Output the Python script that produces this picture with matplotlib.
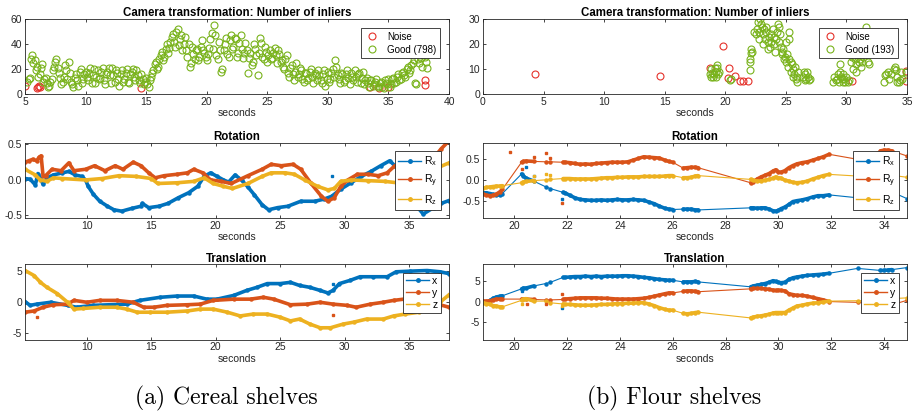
import matplotlib
matplotlib.use("Agg")
import matplotlib.pyplot as plt  # noqa: E402
import numpy as np  # noqa: E402
from matplotlib.lines import Line2D  # noqa: E402

plt.rcParams["font.family"] = ["Liberation Sans", "DejaVu Sans"]
plt.rcParams["axes.unicode_minus"] = False
plt.rcParams["mathtext.fontset"] = "custom"
plt.rcParams["mathtext.rm"] = "Liberation Sans"
plt.rcParams["mathtext.it"] = "Liberation Sans"

BLUE, ORANGE, YELLOW = "#0072BD", "#D95319", "#EDB120"
GREEN, RED = "#79B31C", "#E5322B"
INK = "#262626"

# ---------------- (a) Cereal shelves ----------------
# inliers, good matches: one value every 0.2 s from 5.2 s to 38.2 s ...
cer_good = [
    10, 13, 31, 27, 22, 16, 24, 12, 9, 7, 12, 22, 28, 17, 8,
    14, 19, 26, 10, 6, 16, 7, 20, 12, 18, 11, 21, 15, 9, 19,
    13, 21, 8, 18, 15, 21, 10, 17, 7, 19, 12, 20, 9, 18, 14,
    19, 11, 16, 8, 13, 6, 14, 19, 26, 22, 31, 27, 36, 33, 42,
    48, 38, 52, 44, 35, 46, 30, 22, 38, 28, 36, 30, 43, 33, 27,
    37, 49, 55, 31, 42, 18, 35, 45, 30, 47, 38, 44, 33, 47, 29,
    41, 17, 33, 26, 36, 15, 45, 30, 38, 26, 35, 29, 37, 25, 32,
    27, 20, 31, 14, 23, 11, 25, 16, 19, 10, 17, 13, 20, 9, 15,
    19, 11, 16, 7, 18, 12, 20, 27, 15, 9, 16, 11, 19, 8, 14,
    19, 10, 17, 13, 8, 13, 6, 11, 8, 12, 7, 10, 5, 9, 12,
    8, 13, 10, 16, 12, 18, 14, 22, 19, 25, 9, 28, 33, 22, 30, 21,
]
# ... and the frames in between, every 0.2 s from 5.3 s to 38.1 s
cer_good_mid = [
    12, 28, 25, 19, 14, 21, 10, 13, 6, 10, 19, 26, 21, 13, 10,
    23, 12, 17, 8, 13, 11, 18, 9, 16, 14, 17, 9, 20, 14, 12,
    18, 11, 16, 21, 9, 15, 19, 12, 16, 10, 17, 10, 16, 20, 11,
    15, 9, 12, 10, 8, 11, 17, 24, 20, 28, 34, 30, 40, 37, 46,
    42, 50, 39, 47, 40, 35, 40, 25, 32, 35, 27, 38, 35, 30, 32,
    44, 36, 47, 28, 35, 20, 40, 32, 43, 36, 45, 30, 41, 36, 33,
    35, 29, 23, 40, 31, 33, 41, 28, 34, 31, 28, 33, 31, 35, 26,
    22, 28, 17, 21, 16, 18, 14, 21, 12, 17, 11, 18, 14, 17, 11,
    15, 9, 19, 12, 10, 17, 14, 22, 12, 17, 10, 16, 13, 17, 11,
    14, 16, 9, 18, 11, 9, 11, 7, 10, 6, 9, 6, 11, 8, 6,
    12, 9, 14, 11, 17, 15, 20, 17, 23, 27, 8, 25, 29, 32, 26,
]
cer_noise_t = [5.0, 6.0, 6.1, 6.15, 6.2, 14.6, 33.5, 34.2, 35.0, 38.0, 38.0]
cer_noise_v = [7, 5, 6, 7, 5.5, 5, 6, 5, 5.5, 11.4, 7.4]

cer_rx_t = [5.2, 5.6, 6.0, 6.2, 6.4, 6.6, 6.9, 7.4, 8.1, 8.6, 9.1, 9.6, 9.9, 10.1,
            10.5, 11.0, 11.6, 12.1, 12.7, 13.5, 14.2, 14.3, 14.8, 15.6, 16.3,
            17.1, 17.9, 18.6, 19.1, 19.6, 20.1, 20.6, 21.0, 21.5, 22.0, 22.5,
            23.0, 23.6, 24.1, 24.8, 25.6, 26.6, 27.7, 28.4, 29.0, 29.7, 30.5,
            31.3, 32.05, 32.8, 33.5, 33.9, 34.5, 35.0, 35.5, 36.1, 36.9, 37.5, 38.1]
cer_rx_v = [0.02, 0.01, -0.07, 0.09, 0.02, -0.06, 0.03, 0.07, 0.10, 0.12, 0.07,
            0.05, 0.0, -0.09, -0.20, -0.30, -0.37, -0.42, -0.44, -0.40, -0.37,
            -0.33, -0.39, -0.37, -0.33, -0.25, -0.18, -0.09, 0.05, 0.10, 0.05,
            0.0, -0.03, 0.07, 0.0, -0.10, -0.21, -0.35, -0.42, -0.39, -0.37,
            -0.30, -0.30, -0.27, -0.23, -0.13, -0.04, 0.05, 0.12, 0.20, 0.27,
            0.20, 0.15, -0.05, -0.35, -0.48, -0.39, -0.33, -0.29]
cer_ry_t = [5.2, 5.5, 5.8, 6.1, 6.3, 6.45, 6.6, 6.8, 7.3, 8.0, 8.6, 9.0, 9.9, 10.6,
            11.4, 12.2, 12.8, 13.6, 14.2, 14.8, 15.3, 16.0, 17.0, 17.8, 18.3,
            19.0, 19.6, 20.4, 21.2, 22.5, 23.6, 24.3, 25.1, 26.0, 26.6, 27.4,
            28.2, 28.7, 29.2, 29.7, 30.25, 31.0, 31.8, 32.6, 33.3, 33.9, 34.5,
            35.0, 35.8, 36.5, 37.0, 37.5, 38.1]
cer_ry_v = [0.25, 0.27, 0.29, 0.27, 0.32, 0.34, 0.06, 0.06, 0.15, 0.13, 0.24, 0.13,
            0.15, 0.20, 0.13, 0.20, 0.15, 0.25, 0.20, 0.10, 0.03, 0.06, 0.08, 0.10,
            0.15, 0.10, 0.0, -0.02, -0.05, 0.06, 0.15, 0.22, 0.20, 0.22, 0.15,
            -0.05, -0.23, -0.30, -0.25, -0.09, 0.0, 0.08, 0.08, 0.06, 0.10, 0.20,
            0.22, 0.15, 0.15, 0.22, 0.33, 0.44, 0.55]
cer_rz_t = [5.2, 6.0, 6.4, 6.9, 7.4, 8.1, 9.9, 11.2, 12.5, 13.8, 15.0, 15.5, 17.0,
            18.3, 19.1, 19.8, 20.6, 21.3, 22.5, 23.6, 24.3, 25.4, 26.1, 26.9, 27.9,
            28.7, 29.2, 29.7, 30.5, 31.8, 33.1, 34.1, 35.0, 36.0, 36.7, 37.2, 38.1]
cer_rz_v = [0.15, 0.07, 0.0, -0.02, 0.03, 0.02, 0.0, 0.02, 0.06, 0.05, 0.02, -0.05,
            -0.04, -0.02, 0.03, -0.05, -0.09, -0.12, -0.05, 0.05, 0.10, 0.10, 0.08,
            0.0, -0.09, -0.14, -0.12, -0.02, 0.0, -0.01, -0.02, -0.04, -0.02, 0.03,
            0.10, 0.17, 0.24]

cer_tx_t = [5.2, 5.6, 6.1, 7.2, 8.5, 9.2, 10.5, 11.8, 13.1, 14.1, 15.7, 17.0, 18.3,
            19.3, 20.1, 21.4, 22.4, 23.2, 24.0, 25.0, 25.8, 26.5, 27.3, 28.1, 28.7,
            29.1, 29.6, 30.4, 31.2, 32.2, 33.3, 34.0, 35.1, 36.4, 37.4, 38.1]
cer_tx_v = [0.1, -0.5, -0.3, 0.0, -0.5, -0.8, -0.5, -0.4, -0.3, 0.3, 0.8, 1.0, 1.0,
            0.5, 0.5, 1.1, 1.9, 2.4, 3.0, 3.0, 3.2, 2.7, 2.4, 1.9, 1.5, 1.9, 3.0,
            3.5, 4.1, 4.1, 4.1, 4.9, 5.0, 5.1, 4.9, 4.6]
cer_ty_t = [5.2, 5.9, 6.6, 7.4, 8.5, 9.0, 10.0, 11.0, 12.3, 13.6, 14.4, 15.2, 16.2,
            17.8, 18.8, 19.8, 21.4, 22.7, 23.7, 24.5, 25.8, 27.1, 28.1, 29.1, 30.2,
            30.9, 32.0, 33.0, 33.8, 34.6, 35.5, 36.5, 37.4, 38.1]
cer_ty_v = [-1.6, -1.4, -0.8, -0.4, -0.3, 0.3, 0.0, 0.3, 0.3, 0.0, -0.8, -0.8, -0.5,
            -0.4, -0.3, 0.3, 0.5, 0.5, 0.8, 0.5, -0.4, -0.3, 0.0, -0.3, -0.5, -0.8,
            -0.3, 0.0, 0.3, 0.5, 0.6, 0.3, -0.4, -0.8]
cer_tz_t = [5.2, 5.9, 6.4, 6.9, 7.7, 8.5, 9.0, 9.7, 11.0, 12.3, 13.1, 13.9, 14.9,
            16.2, 17.8, 18.8, 19.8, 20.9, 21.9, 22.9, 24.0, 25.0, 25.8, 26.5, 27.3,
            28.1, 28.9, 29.9, 30.7, 31.7, 33.0, 33.8, 34.7, 35.8, 36.9, 37.4, 38.1]
cer_tz_v = [5.1, 4.3, 3.2, 2.4, 1.4, 0.0, -1.1, -1.0, -0.8, -0.8, -1.1, -1.6, -1.6,
            -1.6, -1.4, -1.1, -1.1, -1.6, -2.2, -1.9, -1.9, -2.4, -3.0, -2.7, -3.5,
            -4.1, -4.1, -3.5, -3.2, -2.7, -2.7, -2.2, -1.9, -1.6, -0.8, 0.0, 1.2]
cer_rot_out = {"x": ([29.0], [0.06])}
cer_tra_out = {"x": ([29.1], [3.0]), "y": ([6.1, 29.1], [-2.4, -2.1])}

# ---------------- (b) Flour shelves ----------------
flo_good_t = [18.7, 18.8, 18.85, 18.9, 19.0, 19.1, 19.15, 19.2, 19.25, 19.3, 19.35,
              19.4, 19.45, 20.4, 20.45, 22.0, 22.0, 22.05, 22.1, 22.1, 22.2,
              22.4, 22.5, 22.6, 22.7, 22.75, 22.8, 22.9, 22.95, 23.0, 23.1, 23.15,
              23.2, 23.3, 23.35, 23.4, 23.5, 23.55, 23.6, 23.7, 23.75, 23.8, 23.9,
              24.0, 24.05, 24.1, 24.2, 24.3, 24.35, 24.4, 24.45, 24.5, 24.6, 24.65,
              24.7, 24.8, 24.85, 24.9, 25.0, 25.05, 25.1, 25.2, 25.25, 25.3, 25.3,
              25.4, 25.45, 25.5, 25.55, 25.6, 25.7, 25.75, 25.8, 25.9, 25.95, 26.0,
              26.4, 26.5, 26.55, 26.6, 26.7, 26.75, 26.8, 26.9, 27.0,
              28.9, 29.0, 29.1, 29.2, 29.3, 29.35, 29.45, 29.5, 29.55, 29.6, 29.7,
              29.75, 29.8, 29.9, 30.0, 30.1, 30.2,
              30.4, 30.5, 30.55, 30.6, 30.7, 30.75, 30.8, 30.9, 31.0, 31.05, 31.1,
              31.2, 31.3, 31.4, 31.5, 31.6, 31.8, 31.9,
              33.1, 33.2, 33.3, 33.4, 33.5, 33.7, 33.9, 34.0, 34.1, 34.15, 34.2,
              34.3, 34.4, 34.5, 34.55, 34.9]
flo_good_v = [8, 7, 10, 8.5, 7, 8, 10.3, 9, 7, 10.5, 11.5,
              8, 9, 5.5, 6, 9.5, 14, 13, 18, 16.5, 17,
              25, 24, 26, 29, 25, 22, 30, 28, 27, 24, 20,
              26, 22, 27, 25, 21, 18, 23, 19, 24, 21, 26,
              23, 20, 17, 22, 25, 28, 27, 21, 24, 19, 17,
              16, 18, 14, 15, 13, 21, 16, 11, 22, 25, 14,
              13, 9, 12, 7, 10, 8, 11, 6, 7, 5, 9,
              7, 9, 5.5, 8, 6, 9, 7, 5.5, 6,
              5, 7, 5.5, 6, 8, 5, 9, 12, 7, 6, 5,
              8, 6, 5, 7, 5, 5.5,
              13, 15, 10, 17, 14, 9, 12, 16, 13, 18, 14,
              11, 13, 15, 17, 27, 13, 12,
              5, 7.5, 8, 9, 6, 8, 10, 11, 9.5, 5, 7,
              5, 5.5, 9, 6, 9]
flo_noise_t = [4.3, 14.6, 18.75, 19.85, 20.3, 20.25, 20.8, 21.2, 21.5, 21.9, 30.45,
               34.9, 34.95]
flo_noise_v = [8.2, 7.2, 10.3, 19.3, 10.3, 6.3, 7.3, 5.3, 5.3, 5.3, 5.3, 9.3, 5.3]

flo_t = [18.83, 18.95, 19.1, 19.2, 19.33, 19.45, 19.55, 20.28, 20.35, 20.45, 20.74,
         21.2, 21.37, 21.85, 21.92, 22.1, 22.3, 22.5, 22.7, 22.9, 23.1, 23.3, 23.5,
         23.7, 23.9, 24.1, 24.3, 24.5, 24.7, 24.9, 25.1, 25.3, 25.5, 25.7, 25.85,
         26.0, 26.4, 26.55, 26.7, 26.85, 26.96, 28.95, 29.05, 29.2, 29.35, 29.5,
         29.65, 29.8, 29.9, 30.0, 30.1, 30.25, 30.4, 30.55, 30.7, 30.9, 31.1, 31.3,
         31.5, 31.7, 31.92, 33.0, 33.86, 34.0, 34.15, 34.3, 34.87]
flo_rx = [-0.30, -0.30, -0.32, -0.34, -0.36, -0.35, -0.32, 0.15, 0.10, 0.05, -0.02,
          -0.16, -0.20, -0.29, -0.30, -0.36, -0.42, -0.46, -0.47, -0.48, -0.48,
          -0.47, -0.48, -0.47, -0.46, -0.47, -0.47, -0.46, -0.47, -0.48, -0.52,
          -0.56, -0.62, -0.67, -0.69, -0.70, -0.69, -0.69, -0.69, -0.71, -0.71,
          -0.66, -0.66, -0.67, -0.66, -0.66, -0.69, -0.73, -0.74, -0.72, -0.68,
          -0.64, -0.58, -0.51, -0.49, -0.47, -0.44, -0.40, -0.37, -0.37, -0.35,
          -0.42, -0.33, -0.31, -0.30, -0.28, -0.44]
flo_ry = [-0.33, -0.36, -0.37, -0.36, -0.33, -0.28, -0.22, 0.43, 0.45, 0.46, 0.45,
          0.44, 0.44, 0.43, 0.43, 0.42, 0.40, 0.38, 0.39, 0.38, 0.40, 0.41, 0.42,
          0.43, 0.43, 0.43, 0.44, 0.48, 0.52, 0.56, 0.55, 0.54, 0.53, 0.48, 0.45,
          0.43, 0.29, 0.30, 0.31, 0.31, 0.30, -0.06, -0.04, 0.03, 0.08, 0.12, 0.16,
          0.22, 0.25, 0.20, 0.19, 0.23, 0.30, 0.35, 0.39, 0.42, 0.44, 0.48, 0.52,
          0.56, 0.62, 0.50, 0.70, 0.72, 0.72, 0.70, 0.58]
flo_rz = [-0.19, -0.17, -0.16, -0.15, -0.14, -0.14, -0.13, -0.06, -0.04, -0.03,
          -0.01, 0.01, 0.02, 0.04, 0.04, 0.04, 0.03, 0.03, 0.03, 0.03, 0.04, 0.05,
          0.06, 0.06, 0.07, 0.07, 0.08, 0.08, 0.08, 0.09, 0.09, 0.09, 0.09, 0.10,
          0.11, 0.11, 0.06, 0.06, 0.07, 0.10, 0.11, 0.02, 0.0, -0.02, -0.02, 0.0,
          0.02, 0.05, 0.08, 0.06, 0.05, 0.0, -0.02, -0.05, -0.06, -0.05, -0.02,
          0.03, 0.07, 0.11, 0.14, 0.10, 0.12, 0.12, 0.12, 0.12, 0.07]
flo_tx = [0.0, -0.2, 0.4, 0.9, 1.2, 1.4, 1.5, 3.2, 3.4, 3.4, 3.9, 4.5, 4.8, 6.0,
          6.0, 6.1, 6.2, 6.2, 6.3, 6.2, 6.3, 6.2, 6.3, 6.3, 6.3, 6.4, 6.4, 6.3, 6.2,
          6.0, 5.9, 5.7, 5.5, 5.4, 5.3, 5.3, 4.9, 4.9, 4.9, 5.0, 4.9, 3.7, 3.9, 4.1,
          4.3, 4.5, 4.8, 5.2, 5.0, 4.8, 4.7, 4.8, 5.5, 5.9, 6.1, 6.3, 6.5, 6.6, 6.7,
          6.8, 7.0, 8.2, 7.7, 7.7, 7.8, 7.9, 8.4]
flo_ty = [0.2, 0.2, 0.3, 0.5, 0.7, 0.7, 0.7, 0.7, 0.7, 0.7, 0.6, 0.5, 0.5, 0.6,
          0.7, 0.8, 0.9, 1.0, 1.0, 1.0, 1.0, 0.9, 0.9, 0.8, 0.7, 0.7, 0.7, 0.7,
          0.8, 0.9, 1.1, 1.4, 1.7, 2.0, 2.2, 2.2, 2.6, 2.7, 2.7, 2.6, 2.5, 3.2, 3.3,
          3.3, 3.3, 3.2, 3.1, 2.9, 2.8, 2.9, 2.8, 2.7, 2.0, 1.8, 1.6, 1.6, 1.4, 1.1,
          0.8, 0.5, 0.1, -0.1, -0.2, -0.3, -0.5, -0.7, 0.4]
flo_tz = [-0.2, -0.4, -0.6, -0.9, -1.0, -1.2, -1.2, 0.4, 0.7, 0.8, 0.2, 0.2, -0.2,
          -0.5, -0.6, -0.6, -0.7, -0.8, -0.8, -0.8, -0.7, -0.6, -0.6, -0.5, -0.4,
          -0.4, -0.3, -0.3, -0.2, -0.2, -0.5, -0.9, -1.4, -1.8, -2.0, -2.0, -2.8,
          -2.9, -2.8, -2.6, -2.5, -3.9, -3.7, -3.5, -3.4, -3.2, -3.0, -2.7, -2.6,
          -2.6, -2.6, -2.6, -2.0, -1.5, -1.0, -0.8, -0.5, -0.3, -0.2, 0.0, 0.2, 0.3,
          0.4, 0.5, 0.6, 0.8, 1.0]
flo_rot_out = {"x": ([20.43, 20.74, 21.8], [0.31, 0.10, -0.44]),
               "y": ([19.84, 20.3, 20.75, 21.2, 21.37, 21.8],
                     [0.68, 0.27, 0.56, 0.64, 0.52, -0.55]),
               "z": ([20.74, 21.2, 21.37], [0.10, 0.14, 0.13])}
flo_tra_out = {"x": ([20.28, 21.8], [2.7, -1.6]),
               "y": ([20.47, 21.2, 21.8], [-0.6, -0.4, 1.9]),
               "z": ([20.28, 21.8], [-0.5, -1.0])}

SERIES = {"x": BLUE, "y": ORANGE, "z": YELLOW}

fig = plt.figure(figsize=(9.19, 4.17), dpi=100)


def add_ax(left, row):
    tops = [19, 143, 264.3]
    h = 75.3
    return fig.add_axes([left / 919, 1 - (tops[row] + h) / 417, 424 / 919, h / 417])


def style(ax, title):
    ax.set_title(title, fontsize=8.3, fontweight="bold", color="black", pad=2)
    ax.set_xlabel("seconds", fontsize=7.5, color=INK, labelpad=1)
    ax.tick_params(direction="in", length=2.5, width=0.6, labelsize=7.5,
                   colors=INK, top=True, right=True, pad=2)
    for s in ax.spines.values():
        s.set_linewidth(0.6)
        s.set_color(INK)


def circle(color):
    return dict(ls="none", marker="o", ms=5, mfc="none", mec=color, mew=0.8)


def scatter_panel(ax, good, nt, nv, good_label):
    ax.plot(nt, nv, **circle(RED))
    for gt, gv in good:
        ax.plot(gt, gv, **circle(GREEN))
    handles = [Line2D([], [], **circle(RED)), Line2D([], [], **circle(GREEN))]
    leg = ax.legend(handles, ["Noise", good_label], loc="upper right", fontsize=7,
                    fancybox=False, edgecolor=INK, framealpha=1, borderaxespad=0.9,
                    handlelength=1.5, handletextpad=0.8, borderpad=0.4,
                    labelspacing=0.3)
    leg.get_frame().set_linewidth(0.6)


def series_legend(ax, labels, spacing):
    handles = [Line2D([], [], color=c, lw=1, marker="o", ms=2.5) for c in SERIES.values()]
    leg = ax.legend(handles, labels, loc="upper right", fontsize=7.5, fancybox=False,
                    edgecolor=INK, framealpha=1, borderaxespad=0.8, handlelength=2.2,
                    handletextpad=0.3, borderpad=0.3, labelspacing=spacing)
    leg.get_frame().set_linewidth(0.6)


def dense_lines(ax, data, outliers):
    for key, (t, v) in data.items():
        ax.plot(t, v, color=SERIES[key], lw=2.6, marker="o", ms=2.2,
                solid_joinstyle="round")
    for key, (t, v) in outliers.items():
        ax.plot(t, v, ls="none", marker="s", ms=1.8, color=SERIES[key])


def gapped_lines(ax, t, data, outliers):
    t = np.asarray(t)
    brk = np.where(np.diff(t) > 0.3)[0] + 1
    for key, v in data.items():
        v = np.asarray(v)
        ax.plot(t, v, color=SERIES[key], lw=0.8, marker="o", ms=2.2)
        for st, sv in zip(np.split(t, brk), np.split(v, brk)):
            if len(st) > 2:
                ax.plot(st, sv, color=SERIES[key], lw=2.6, solid_capstyle="round",
                        solid_joinstyle="round")
    for key, (ot, ov) in outliers.items():
        ax.plot(ot, ov, ls="none", marker="s", ms=1.8, color=SERIES[key])


rot_labels = [r"R$_\mathrm{x}$", r"R$_\mathrm{y}$", r"R$_\mathrm{z}$"]
tra_labels = ["x", "y", "z"]

# ---- left column: cereal ----
ax = add_ax(25, 0)
scatter_panel(ax, [(np.linspace(5.2, 38.2, len(cer_good)), cer_good),
                   (np.linspace(5.3, 38.1, len(cer_good_mid)), cer_good_mid)],
              cer_noise_t, cer_noise_v, "Good (798)")
ax.set_xlim(5, 40)
ax.set_ylim(0, 60)
ax.set_xticks(range(5, 41, 5))
ax.set_yticks([0, 20, 40, 60])
style(ax, "Camera transformation: Number of inliers")

ax = add_ax(25, 1)
dense_lines(ax, {"x": (cer_rx_t, cer_rx_v), "y": (cer_ry_t, cer_ry_v),
                 "z": (cer_rz_t, cer_rz_v)}, cer_rot_out)
ax.set_xlim(5.2, 38.1)
ax.set_ylim(-0.54, 0.52)
ax.set_xticks(range(10, 36, 5))
ax.set_yticks([-0.5, 0, 0.5])
series_legend(ax, rot_labels, 0.4)
style(ax, "Rotation")

ax = add_ax(25, 2)
dense_lines(ax, {"x": (cer_tx_t, cer_tx_v), "y": (cer_ty_t, cer_ty_v),
                 "z": (cer_tz_t, cer_tz_v)}, cer_tra_out)
ax.set_xlim(5.2, 38.1)
ax.set_ylim(-6, 6.1)
ax.set_xticks(range(10, 36, 5))
ax.set_yticks([-5, 0, 5])
series_legend(ax, tra_labels, 0.2)
style(ax, "Translation")

# ---- right column: flour ----
ax = add_ax(483, 0)
scatter_panel(ax, [(flo_good_t, flo_good_v)], flo_noise_t, flo_noise_v, "Good (193)")
ax.set_xlim(0, 35)
ax.set_ylim(0, 30)
ax.set_xticks(range(0, 36, 5))
ax.set_yticks([0, 10, 20, 30])
style(ax, "Camera transformation: Number of inliers")

ax = add_ax(483, 1)
gapped_lines(ax, flo_t, {"x": flo_rx, "y": flo_ry, "z": flo_rz}, flo_rot_out)
ax.set_xlim(18.82, 34.87)
ax.set_ylim(-0.91, 0.89)
ax.set_xticks(range(20, 35, 2))
ax.set_yticks([-0.5, 0, 0.5])
series_legend(ax, rot_labels, 0.4)
style(ax, "Rotation")

ax = add_ax(483, 2)
gapped_lines(ax, flo_t, {"x": flo_tx, "y": flo_ty, "z": flo_tz}, flo_tra_out)
ax.set_xlim(18.82, 34.87)
ax.set_ylim(-9.2, 9.2)
ax.set_xticks(range(20, 35, 2))
ax.set_yticks([-5, 0, 5])
series_legend(ax, tra_labels, 0.2)
style(ax, "Translation")

fig.text(226 / 919, 1 - 398 / 417, "(a) Cereal shelves", family="cmr10",
         fontsize=17, ha="center", va="center")
fig.text(674 / 919, 1 - 398 / 417, "(b) Flour shelves", family="cmr10",
         fontsize=17, ha="center", va="center")

fig.savefig("out.png", dpi=100)
